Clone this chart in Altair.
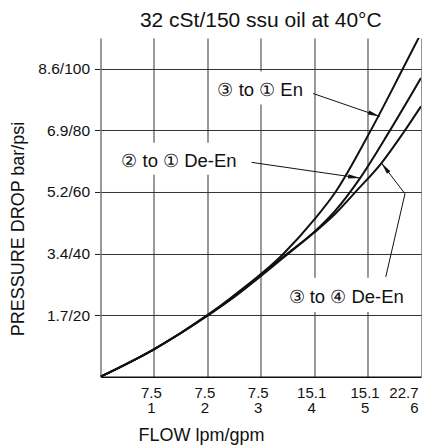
import altair as alt
import pandas as pd

# Curves: flow (gpm) vs pressure drop (psi)
flow_31 = [0, 1, 2, 2.43, 3.43, 4.0, 4.4, 5.06, 5.66, 5.97]
psi_31 = [0, 8.9, 20, 25.5, 40, 51, 60, 80, 100, 110.5]
flow_21 = [0, 1, 2, 2.43, 3.5, 4.0, 4.4, 4.86, 5.42, 6.0]
psi_21 = [0, 8.9, 19.8, 25, 40, 47, 54, 64.5, 80, 97]
flow_34 = [0, 1, 2, 2.43, 3.52, 4.0, 4.4, 4.8, 5.26, 5.66, 6.0]
psi_34 = [0, 8.9, 19.8, 25, 40, 46.8, 53, 60.5, 69.4, 79, 87.8]

# Axis ticks
x_ticks = [1, 2, 3, 4, 5, 6]
x_lpm = ["7.5", "7.5", "7.5", "15.1", "15.1", "22.7"]
y_ticks = [20, 40, 60, 80, 100]
y_bar = ["1.7", "3.4", "5.2", "6.9", "8.6"]

# Annotations (data units)
labels = ["③ to ① En", "② to ① De-En", "③ to ④ De-En"]
label_x = [2.99, 1.47, 4.60]
label_y = [93.0, 69.9, 26.0]
box_x1 = [2.05, 0.18, 3.36]
box_x2 = [3.92, 2.70, 5.83]
box_y1 = [88.4, 65.6, 21.0]
box_y2 = [99.1, 76.0, 32.1]

leader_id = [1, 1, 2, 2, 3, 3, 3]
leader_ord = [0, 1, 0, 1, 0, 1, 2]
leader_x = [3.98, 5.23, 2.83, 4.86, 5.34, 5.70, 5.26]
leader_y = [91.97, 84.5, 69.6, 64.5, 32.4, 59.4, 69.4]

tip_x = [5.23, 4.86, 5.26]
tip_y = [84.5, 64.5, 69.4]
tip_angle = [20, 8, 233]

curves = pd.concat([
    pd.DataFrame({"flow": flow_31, "psi": psi_31, "s": "31"}),
    pd.DataFrame({"flow": flow_21, "psi": psi_21, "s": "21"}),
    pd.DataFrame({"flow": flow_34, "psi": psi_34, "s": "34"}),
])
ann = pd.DataFrame({"t": labels, "x": label_x, "y": label_y,
                    "x1": box_x1, "x2": box_x2, "y1": box_y1, "y2": box_y2})
lead = pd.DataFrame({"id": leader_id, "o": leader_ord, "x": leader_x, "y": leader_y})
tips = pd.DataFrame({"x": tip_x, "y": tip_y, "a": tip_angle})

FONT = "Liberation Sans"
xl_expr = "[" + ",".join("'%s'" % v for v in x_lpm) + "]"
yl_expr = "[" + ",".join("'%s'" % v for v in y_bar) + "]"

xscale = alt.Scale(domain=[0, 6], nice=False, zero=False)
yscale = alt.Scale(domain=[0, 110], nice=False, zero=False)

xaxis = alt.Axis(
    values=x_ticks, grid=True, gridColor="#333", gridWidth=1, ticks=False,
    domainColor="#111", domainWidth=1.5,
    labelExpr="[" + xl_expr + "[datum.value-1], '' + datum.value]",
    labelFont=FONT, labelFontSize=15, labelColor="#111", labelLineHeight=15,
    labelPadding=9, labelOffset=-3,
    title="FLOW lpm/gpm", titleFont=FONT, titleFontSize=18, titleFontWeight="normal",
    titleColor="#111", titleX=100.5, titleY=64, titleBaseline="alphabetic",
    titleAlign="center",
)
yaxis = alt.Axis(
    values=y_ticks, grid=True, gridColor="#333", gridWidth=1, ticks=True,
    tickSize=6, tickColor="#222", domainColor="#777", domainWidth=1.5,
    labelExpr=yl_expr + "[datum.value/20-1] + '/' + datum.value",
    labelFont=FONT, labelFontSize=15.5, labelColor="#111", labelPadding=5,
    title="PRESSURE DROP bar/psi", titleFont=FONT, titleFontSize=18,
    titleFontWeight="normal", titleColor="#111", titleX=-77.5, titleY=190.5,
    titleBaseline="alphabetic", titleAngle=270, titleAlign="center",
)

base_x = alt.X("flow:Q", scale=xscale, axis=xaxis)
base_y = alt.Y("psi:Q", scale=yscale, axis=yaxis)

lines = alt.Chart(curves).mark_line(
    color="#111", strokeWidth=2, interpolate="monotone", clip=True
).encode(x=base_x, y=base_y, detail="s:N")

boxes = alt.Chart(ann).mark_rect(color="white", opacity=1).encode(
    x=alt.X("x1:Q", scale=xscale), x2="x2:Q",
    y=alt.Y("y1:Q", scale=yscale), y2="y2:Q",
)
texts = alt.Chart(ann).mark_text(
    font=FONT, fontSize=18.5, color="#111", align="center", baseline="middle"
).encode(x=alt.X("x:Q", scale=xscale), y=alt.Y("y:Q", scale=yscale), text="t:N")

leaders = alt.Chart(lead).mark_line(color="#111", strokeWidth=1).encode(
    x=alt.X("x:Q", scale=xscale), y=alt.Y("y:Q", scale=yscale),
    detail="id:N", order="o:Q",
)
arrows = alt.Chart(tips).mark_point(
    shape="M0,0L-2,-0.35L-2,0.35Z", filled=True, size=144, color="#111", opacity=1
).encode(
    x=alt.X("x:Q", scale=xscale), y=alt.Y("y:Q", scale=yscale),
    angle=alt.Angle("a:Q", scale=None),
)

chart = alt.layer(lines, boxes, texts, leaders, arrows).properties(
    width=320.5, height=338.7,
    autosize=alt.AutoSizeParams(type="none"),
    padding={"left": 92.5, "top": 30, "right": 1, "bottom": 70},
    title=alt.TitleParams("32 cSt/150 ssu oil at 40°C", font=FONT, fontSize=21,
                          fontWeight="normal", color="#111", anchor="middle", offset=7),
).configure_view(stroke=None)

chart.save("out.html", embed_options={"renderer": "svg", "actions": False})
